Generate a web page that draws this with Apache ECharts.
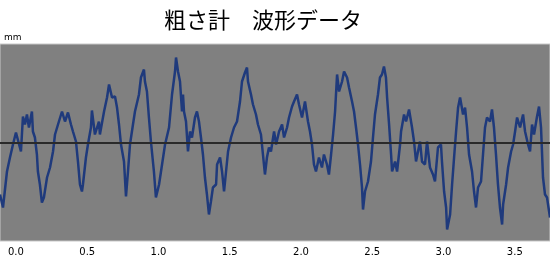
<!DOCTYPE html>
<html>
<head>
<meta charset="utf-8">
<script src="https://cdn.jsdelivr.net/npm/echarts@6/dist/echarts.min.js"></script>
<style>html,body{margin:0;padding:0;background:#fff}#c{width:550px;height:260px}</style>
</head>
<body>
<div id="c"></div>
<script>
var titleText = '粗さ計　波形データ';
var yUnit = 'mm';
var xTickValues = [0, 0.5, 1.0, 1.5, 2.0, 2.5, 3.0, 3.5];
var xMin = -0.112, xMax = 3.747;
var yMin = -9.85, yMax = 9.85;
var xs = [
-0.112,-0.091,-0.063,-0.042,-0.021,0,0.014,0.035,0.049,0.063,0.077,0.091,0.112,0.119,0.133,0.147,0.154,0.168,0.182,0.196,0.218,0.239,0.260,0.274,0.295,0.323,0.330,0.344,0.365,0.386,0.400,0.421,0.435,0.449,0.463,0.470,0.491,0.505,0.526,0.533,
0.554,0.582,0.589,0.618,0.639,0.653,0.674,0.695,0.709,0.723,0.737,0.758,0.772,0.786,0.800,0.821,0.835,0.863,0.877,0.898,0.905,0.919,0.933,0.947,0.968,0.982,1.004,1.025,1.046,1.074,1.095,1.116,1.123,1.137,1.151,1.165,1.172,1.179,
1.193,1.207,1.221,1.235,1.256,1.270,1.284,1.298,1.312,1.326,1.340,1.354,1.368,1.382,1.404,1.411,1.432,1.446,1.460,1.474,1.488,1.509,1.530,1.551,1.572,1.586,1.607,1.621,1.628,1.649,1.663,1.684,1.698,1.719,1.733,1.747,1.761,1.775,1.789,1.811,1.825,
1.846,1.867,1.881,1.902,1.916,1.937,1.951,1.972,1.986,2.007,2.028,2.049,2.063,2.077,2.091,2.105,2.126,2.147,2.161,2.182,2.196,2.211,2.225,2.239,2.253,2.267,2.288,2.302,2.323,2.337,2.358,2.372,2.386,2.400,2.414,2.428,2.435,2.449,2.470,
2.491,2.505,2.519,2.540,2.554,2.568,2.582,2.596,2.604,2.618,2.632,2.639,2.660,2.674,2.695,2.702,2.723,2.737,2.758,2.772,2.779,2.793,2.807,2.835,2.849,2.870,2.884,2.905,2.926,2.940,2.961,2.982,2.989,3.004,3.018,3.025,3.046,3.060,3.074,3.088,3.102,3.116,
3.137,3.151,3.165,3.179,3.200,3.214,3.228,3.242,3.263,3.277,3.291,3.305,3.326,3.340,3.354,3.368,3.382,3.396,3.411,3.418,3.439,3.453,3.474,3.488,3.502,3.516,3.537,3.558,3.572,3.593,3.607,3.621,3.635,3.656,3.670,3.684,3.698,3.712,3.726,3.747
];
var ys = [
-5.2,-6.5,-2.9,-1.5,-0.2,1.0,1.1,-0.9,2.6,1.8,2.8,1.5,3.1,1.1,0.5,-1.2,-2.9,-4.2,-6.0,-5.5,-3.5,-2.5,-0.9,0.8,1.8,3.1,3.3,2.1,3.0,1.8,1.1,0.1,-1.9,-4.2,-4.9,-4.2,-1.5,-0.2,1.5,3.2,
0.8,2.1,0.8,3.1,4.5,5.8,4.5,4.6,3.5,1.8,-0.2,-1.9,-5.4,-2.9,-0.2,1.8,3.1,4.8,6.5,7.3,6.1,5.1,2.5,0.1,-2.9,-5.5,-4.2,-2.2,-0.2,1.5,4.8,7.1,8.5,7.1,6.1,3.1,4.8,3.1,
2.1,-0.9,1.1,0.5,2.5,3.1,2.1,0.5,-1.2,-3.5,-5.2,-7.2,-5.9,-4.5,-4.2,-2.2,-1.5,-2.9,-4.9,-2.9,-0.9,0.5,1.5,2.1,4.1,6.1,7.0,7.5,6.1,4.8,3.8,2.8,1.8,0.8,-1.2,-3.2,-1.5,-0.5,-0.9,1.1,-0.2,
1.1,1.8,0.5,1.5,2.5,3.6,4.1,4.8,3.8,2.5,4.1,2.1,1.1,-0.2,-2.2,-2.9,-1.5,-2.5,-1.2,-2.2,-3.2,-1.2,0.8,3.1,6.8,5.1,6.1,7.1,6.5,5.5,4.1,3.1,1.5,-0.2,-2.2,-4.5,-6.7,-4.9,-3.9,
-1.9,0.5,2.8,4.8,6.5,6.8,7.6,6.5,4.5,1.8,-1.2,-2.9,-1.9,-2.9,-0.2,1.1,2.8,2.1,3.3,3.5,1.5,0.1,-1.9,0.1,-1.9,-2.2,0.1,-2.5,-3.2,-3.9,-0.5,-0.2,-1.9,-4.9,-6.5,-8.7,-7.2,-4.2,-1.5,1.1,3.5,4.5,
2.8,3.5,1.5,-1.2,-2.9,-4.9,-6.5,-4.5,-3.9,-1.2,1.5,2.5,2.1,3.3,1.5,-1.2,-4.2,-6.5,-8.2,-6.2,-4.2,-2.5,-0.9,-0.2,1.1,2.5,1.5,2.8,1.1,-0.2,-0.9,1.8,0.8,2.6,3.6,1.5,-3.5,-5.2,-5.5,-7.5
];
var wave = xs.map(function (x, i) { return [x, ys[i]]; });

var chart = echarts.init(document.getElementById('c'), null, { renderer: 'canvas' });
chart.setOption({
  animation: false,
  backgroundColor: '#ffffff',
  title: {
    text: titleText,
    left: 159,
    top: 4,
    textStyle: { fontFamily: 'Noto Sans CJK JP', fontSize: 22, fontWeight: 'normal', color: '#000' }
  },
  graphic: [{
    type: 'text', left: 4, top: 33,
    style: { text: yUnit, fontSize: 9, fontFamily: 'DejaVu Sans', fill: '#000' }
  }],
  grid: {
    left: 0, right: 0, top: 44, height: 197,
    show: true, backgroundColor: '#808080', borderColor: '#c8c8c8', borderWidth: 1
  },
  xAxis: {
    type: 'value', min: xMin, max: xMax,
    axisLine: { show: false }, axisTick: { show: false }, splitLine: { show: false },
    axisLabel: {
      customValues: xTickValues, margin: 6,
      formatter: function (v) { return v.toFixed(1); },
      fontSize: 10, fontFamily: 'DejaVu Sans', color: '#000'
    }
  },
  yAxis: {
    type: 'value', min: yMin, max: yMax,
    axisLine: { show: false }, axisTick: { show: false }, splitLine: { show: false },
    axisLabel: { show: false }
  },
  series: [
    {
      type: 'line', data: [], z: 1, silent: true,
      markLine: {
        silent: true, symbol: 'none', label: { show: false },
        lineStyle: { color: '#2a2a2a', width: 2, type: 'solid' },
        data: [{ yAxis: 0 }]
      }
    },
    {
      type: 'line', data: wave, z: 2, showSymbol: false, symbol: 'none',
      lineStyle: { color: '#1f3a7c', width: 2.5, join: 'bevel' }
    }
  ]
});
</script>
</body>
</html>
